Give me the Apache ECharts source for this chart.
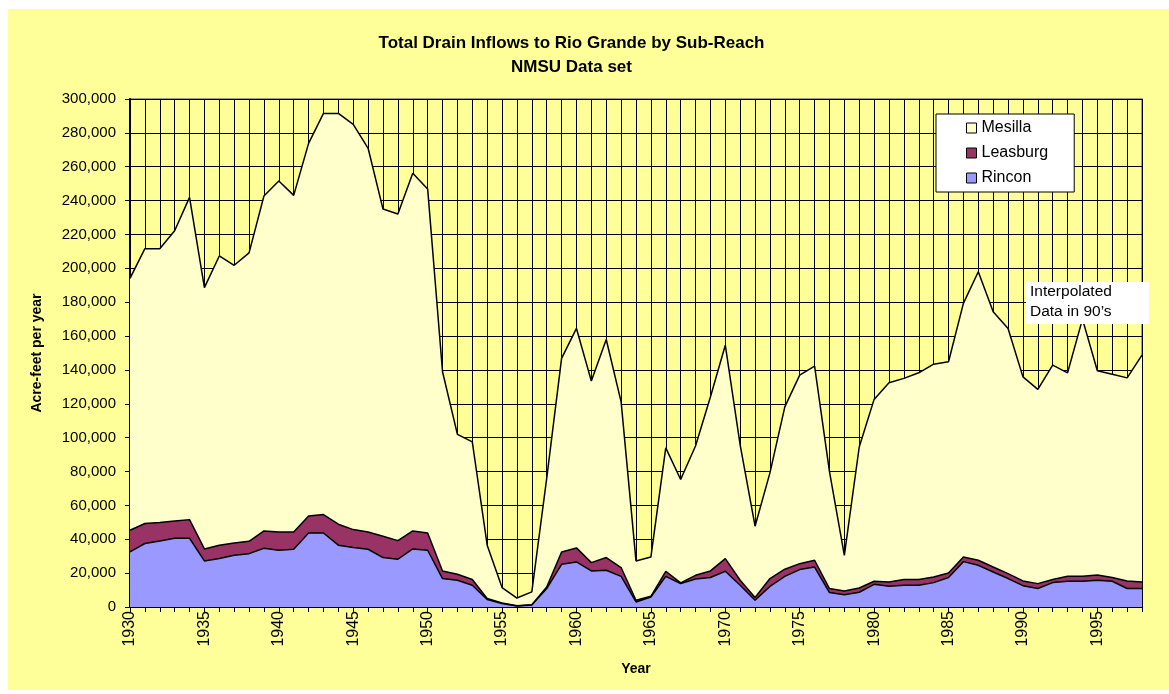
<!DOCTYPE html>
<html>
<head>
<meta charset="utf-8">
<script src="https://cdn.jsdelivr.net/npm/echarts@6/dist/echarts.min.js"></script>
<style>
html,body{margin:0;padding:0;background:#ffffff;width:1169px;height:694px;overflow:hidden;}
#chart{position:absolute;left:8px;top:9px;width:1161px;height:681px;}
</style>
</head>
<body>
<div id="chart"></div>
<script>
var years = [];
for (var y = 1930; y <= 1998; y++) years.push(String(y));

var titleLines = ['Total Drain Inflows to Rio Grande by Sub-Reach', 'NMSU Data set'];
var noteText = 'Interpolated\nData in 90\u2019s';

var rincon = [
  32500, 37500, 39000, 40600, 40600,
  27200, 28600, 30600, 31500, 34700,
  33500, 34100, 43700, 43700, 36500,
  35100, 34100, 29200, 28200, 34300,
  33500, 16800, 15800, 12800, 4400,
  2000, 600, 1200, 10900, 25200,
  26600, 21300, 21700, 18100, 3000,
  5900, 18100, 13800, 16500, 17400,
  21100, 12800, 4000, 12200, 18100,
  22100, 23600, 8500, 7300, 8700,
  13400, 12200, 12800, 12800, 14400,
  17400, 26800, 24600, 20700, 16800,
  12600, 10900, 14400, 15200, 15200,
  15800, 15200, 10900, 10900
];
var leasburg = [
  12800, 11800, 10900, 10200, 11000,
  7100, 7900, 7200, 7300, 10200,
  10800, 10200, 10100, 10900, 12400,
  10600, 10200, 12600, 11000, 10600,
  10200, 4500, 3500, 3400, 600,
  400, 200, 200, 900, 7300,
  8300, 4900, 7500, 5200, 1000,
  400, 3000, 400, 2200, 3900,
  7500, 3000, 1600, 4600, 4200,
  3500, 4000, 2400, 2200, 2500,
  1800, 2600, 3400, 3400, 3300,
  2700, 2700, 3000, 2900, 2900,
  2800, 2900, 1800, 2900, 2900,
  3100, 2200, 4500, 3900
];
var mesilla = [
  148800, 162300, 161700, 171400, 190300,
  154300, 170800, 164000, 170300, 197800,
  207300, 198800, 220000, 236900, 242600,
  239300, 226600, 193200, 192900, 211200,
  203200, 117600, 82600, 81300, 31500,
  9100, 4500, 7500, 64200, 114300,
  129600, 107200, 128800, 97800, 23200,
  23200, 72900, 61100, 76400, 102700,
  126000, 79800, 42100, 62400, 95900,
  111300, 114600, 69100, 21000, 83300,
  107400, 117600, 118800, 122100, 125700,
  124700, 149800, 170400, 150700, 144800,
  120500, 114700, 126600, 120200, 151900,
  120600, 120100, 119900, 133900
];

var FONT = "'Liberation Sans', Arial, sans-serif";
var chart = echarts.init(document.getElementById('chart'));

function areaSeries(name, data, fill) {
  return {
    name: name,
    type: 'line',
    stack: 'total',
    data: data,
    showSymbol: false,
    symbol: 'none',
    color: fill,
    lineStyle: { color: '#000', width: 1.5 },
    areaStyle: { color: fill, opacity: 1 },
    itemStyle: { color: fill, borderColor: '#000', borderWidth: 1 },
    emphasis: { disabled: true },
    animation: false
  };
}

chart.setOption({
  backgroundColor: '#FFFF99',
  animation: false,
  textStyle: { fontFamily: FONT },
  legend: {
    orient: 'vertical',
    left: 928,
    top: 105,
    padding: [6, 26, 6, 30],
    itemGap: 9,
    itemWidth: 10,
    itemHeight: 10,
    icon: 'rect',
    backgroundColor: '#ffffff',
    borderColor: '#000',
    borderWidth: 1,
    itemStyle: { borderColor: '#000', borderWidth: 1 },
    textStyle: { fontFamily: FONT, fontSize: 16, color: '#000', lineHeight: 16 },
    data: [
      { name: 'Mesilla', itemStyle: { color: '#FFFFCC', borderColor: '#000', borderWidth: 1 } },
      { name: 'Leasburg', itemStyle: { color: '#993366', borderColor: '#000', borderWidth: 1 } },
      { name: 'Rincon', itemStyle: { color: '#9999FF', borderColor: '#000', borderWidth: 1 } }
    ]
  },
  grid: {
    left: 122,
    top: 90,
    right: 27,
    bottom: 83,
    show: true,
    backgroundColor: '#FFFF99',
    borderColor: '#808080',
    borderWidth: 1.5
  },
  xAxis: {
    type: 'category',
    data: years,
    boundaryGap: false,
    name: 'Year',
    nameLocation: 'middle',
    nameGap: 55,
    nameTextStyle: { fontFamily: FONT, fontSize: 14, fontWeight: 'bold', color: '#000' },
    axisLine: { show: true, lineStyle: { color: '#000', width: 2 } },
    axisTick: { show: true, interval: 0, length: 5, lineStyle: { color: '#000', width: 1 } },
    axisLabel: {
      interval: 4,
      rotate: 90,
      margin: 4,
      fontFamily: FONT,
      fontSize: 16,
      color: '#000'
    },
    splitLine: { show: true, interval: 0, lineStyle: { color: '#000', width: 1 } }
  },
  yAxis: {
    type: 'value',
    min: 0,
    max: 300000,
    interval: 20000,
    name: 'Acre-feet per year',
    nameLocation: 'middle',
    nameGap: 86,
    nameTextStyle: { fontFamily: FONT, fontSize: 14, fontWeight: 'bold', color: '#000' },
    axisLine: { show: true, lineStyle: { color: '#000', width: 2 } },
    axisTick: { show: true, length: 5, lineStyle: { color: '#000', width: 1 } },
    axisLabel: {
      margin: 14,
      fontFamily: FONT,
      fontSize: 15,
      color: '#000',
      formatter: function (v) { return v.toLocaleString('en-US'); }
    },
    splitLine: { show: true, lineStyle: { color: '#000', width: 1 } }
  },
  series: [
    areaSeries('Rincon', rincon, '#9999FF'),
    areaSeries('Leasburg', leasburg, '#993366'),
    areaSeries('Mesilla', mesilla, '#FFFFCC')
  ],
  graphic: [
    {
      type: 'text',
      x: 563.5,
      y: 34,
      z: 100,
      style: {
        text: titleLines[0],
        font: 'bold 17px ' + FONT,
        fill: '#000',
        textAlign: 'center',
        textVerticalAlign: 'middle'
      }
    },
    {
      type: 'text',
      x: 563.5,
      y: 58,
      z: 100,
      style: {
        text: titleLines[1],
        font: 'bold 17px ' + FONT,
        fill: '#000',
        textAlign: 'center',
        textVerticalAlign: 'middle'
      }
    },
    {
      type: 'rect',
      x: 1018,
      y: 273,
      z: 100,
      shape: { x: 0, y: 0, width: 123, height: 42 },
      style: { fill: '#ffffff' }
    },
    {
      type: 'text',
      x: 1022,
      y: 273,
      z: 101,
      style: {
        text: noteText,
        font: '15.5px ' + FONT,
        fill: '#000',
        lineHeight: 20
      }
    }
  ]
});
</script>
</body>
</html>
